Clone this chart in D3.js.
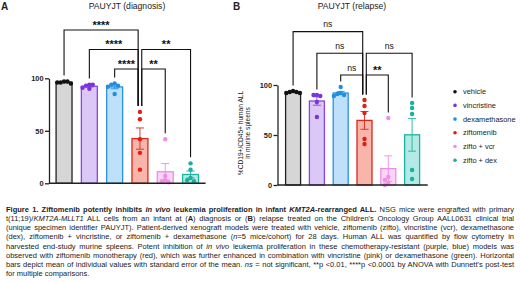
<!DOCTYPE html>
<html>
<head>
<meta charset="UTF-8">
<script src="https://cdnjs.cloudflare.com/ajax/libs/d3/7.8.5/d3.min.js"></script>
<style>
  body { margin: 0; background: #fff; font-family: Arial, "Liberation Sans", sans-serif; }
  #wrap { position: relative; width: 520px; height: 282px; overflow: hidden; }
  svg { position: absolute; left: 0; top: 0; }
  .caption {
    position: absolute; left: 6px; top: 205px; width: 508px;
    font-size: 7.5px; line-height: 9.15px; color: #222;
  }
  .caption div { text-align: justify; text-align-last: justify; white-space: nowrap; height: 9.15px; }
  .caption div.last { text-align-last: left; }
</style>
</head>
<body>
<div id="wrap">
  <svg id="chart" width="520" height="205"></svg>
  <div class="caption">
    <div><b>Figure 1. Ziftomenib potently inhibits <i>in vivo</i> leukemia proliferation in infant <i>KMT2A</i>-rearranged ALL.</b> NSG mice were engrafted with primary</div>
    <div>t(11;19)/<i>KMT2A-MLLT1</i> ALL cells from an infant at (<b>A</b>) diagnosis or (<b>B</b>) relapse treated on the Children's Oncology Group AALL0631 clinical trial</div>
    <div>(unique specimen identifier PAUYJT). Patient-derived xenograft models were treated with vehicle, ziftomenib (zifto), vincristine (vcr), dexamethasone</div>
    <div>(dex), ziftomenib + vincristine, or ziftomenib + dexamethasone (<i>n</i>=5 mice/cohort) for 28 days. Human ALL was quantified by flow cytometry in</div>
    <div>harvested end-study murine spleens. Potent inhibition of <i>in vivo</i> leukemia proliferation in these chemotherapy-resistant (purple, blue) models was</div>
    <div>observed with ziftomenib monotherapy (red), which was further enhanced in combination with vincristine (pink) or dexamethasone (green). Horizontal</div>
    <div>bars depict mean of individual values with standard error of the mean. <i>ns</i> = not significant, **p &lt;0.01, ****p &lt;0.0001 by ANOVA with Dunnett's post-test</div>
    <div class="last">for multiple comparisons.</div>
  </div>
</div>
<script>
// groups and values (% human ALL in spleen)
const groups = ["vehicle", "vincristine", "dexamethasone", "ziftomenib", "zifto + vcr", "zifto + dex"];
const yTicks = [0, 50, 100];

const diagnosisValues = [
  [97, 96, 97, 96, 95],
  [94, 93, 94, 91, 90],
  [95, 94, 93, 92, 85],
  [68, 61, 42, 29, 13],
  [42, 7, 3, 2, 1],
  [19, 13, 5, 3, 2]
];
const relapseValues = [
  [94, 93, 93, 92, 92],
  [90, 90, 89, 83, 68],
  [98, 92, 91, 90, 89],
  [85, 79, 72, 46, 41],
  [67, 8, 5, 2, 0],
  [82, 77, 71, 15, 6]
];

// comparisons: [from group, to group, level, label]
const diagnosisTests = [
  [0, 3, 2, "****"],
  [1, 3, 1, "****"],
  [2, 3, 0, "****"],
  [3, 5, 1, "**"],
  [3, 4, 0, "**"]
];
const relapseTests = [
  [0, 3, 2, "ns"],
  [1, 3, 1, "ns"],
  [2, 3, 0, "ns"],
  [3, 5, 1, "ns"],
  [3, 4, 0, "**"]
];

const fills   = ["#d6d6d6", "#dcc8f6", "#bfe0fa", "#f9b5a9", "#f9d5f5", "#b5e9e3"];
const strokes = ["#222222", "#8b45e0", "#2b91e2", "#d8281d", "#ea8fe4", "#1cb3a2"];
const dots    = ["#111111", "#7b34dc", "#1f8fe3", "#e31d12", "#f08de8", "#16b1a1"];

const svg = d3.select("#chart");
const font = "Arial, 'Liberation Sans', sans-serif";

function mean(a) { return d3.mean(a); }
function sem(a) { return d3.deviation(a) / Math.sqrt(a.length); }

function panel(cfg) {
  const {values, tests, x0, x1, yTop, yBottom, pad, levelY, levelStep, legGap} = cfg;
  const x = d3.scaleBand().domain(groups).range([x0, x1])
    .paddingInner(pad[0]).paddingOuter(pad[1]);
  const y = d3.scaleLinear().domain([0, 100]).range([yBottom, yTop]);
  const g = svg.append("g");

  // bars
  g.selectAll("rect.bar").data(values).enter().append("rect")
    .attr("x", (d, i) => x(groups[i]))
    .attr("y", d => y(mean(d)))
    .attr("width", x.bandwidth())
    .attr("height", d => y(0) - y(mean(d)))
    .attr("fill", (d, i) => fills[i])
    .attr("stroke", (d, i) => strokes[i])
    .attr("stroke-width", 1.3);

  // error bars
  values.forEach((d, i) => {
    const cx = x(groups[i]) + x.bandwidth() / 2;
    const m = mean(d), s = sem(d);
    const eg = g.append("g").attr("stroke", strokes[i]).attr("stroke-width", 0.9);
    eg.append("line").attr("x1", cx).attr("x2", cx).attr("y1", y(m - s)).attr("y2", y(m + s));
    [m - s, m + s].forEach(v => {
      eg.append("line").attr("x1", cx - 4).attr("x2", cx + 4).attr("y1", y(v)).attr("y2", y(v));
    });
  });

  // points with a small swarm spread
  const r = 2.2, step = 3.4;
  values.forEach((d, i) => {
    const cx = x(groups[i]) + x.bandwidth() / 2;
    const placed = [];
    d.forEach(v => {
      const py = y(v);
      let off = 0;
      for (let k = 0; k < 12; k++) {
        const cand = k === 0 ? 0 : (k % 2 ? -1 : 1) * Math.ceil(k / 2) * step;
        if (placed.every(p => Math.hypot(p[0] - cand, p[1] - py) >= step - 0.01)) { off = cand; break; }
      }
      placed.push([off, py]);
      g.append("circle").attr("cx", cx + off).attr("cy", py).attr("r", r).attr("fill", dots[i]);
    });
  });

  // axes
  const ax = g.append("g").attr("transform", `translate(${x0},0)`)
    .call(d3.axisLeft(y).tickValues(yTicks).tickSize(4).tickPadding(1.5).tickSizeOuter(0));
  ax.select(".domain").attr("stroke", "#222").attr("stroke-width", 1.3);
  ax.selectAll(".tick line").attr("stroke", "#222").attr("stroke-width", 1.3);
  ax.selectAll(".tick text").attr("font-family", font).attr("font-size", 7.4)
    .attr("font-weight", "bold").attr("fill", "#222");
  g.append("line").attr("x1", x0).attr("x2", x1).attr("y1", y(0)).attr("y2", y(0))
    .attr("stroke", "#222").attr("stroke-width", 1.4);

  // significance brackets
  const bg = g.append("g").attr("fill", "none").attr("stroke", "#111").attr("stroke-width", 1.1);
  tests.forEach(([a, b, lvl, lab]) => {
    const by = levelY - lvl * levelStep;
    const side = (gi, other) => {
      const c = x(groups[gi]) + x.bandwidth() / 2;
      if (gi === 3) return other < 3 ? c - 1.8 : c + 1.8;
      return c;
    };
    const xa = side(a, b), xb = side(b, a);
    const ya = y(d3.max(values[a])) - legGap, yb = y(d3.max(values[b])) - legGap;
    bg.append("path").attr("d", `M${xa},${ya}V${by}H${xb}V${yb}`);
    const isNs = lab === "ns";
    g.append("text").attr("x", (xa + xb) / 2).attr("y", isNs ? by - 4.5 : by - 1.5)
      .attr("text-anchor", "middle").attr("font-family", font)
      .attr("font-size", isNs ? 8.6 : 11).attr("font-weight", isNs ? "normal" : "bold")
      .attr("fill", "#111").text(lab);
  });

  return {x, y};
}

panel({values: diagnosisValues, tests: diagnosisTests, x0: 49, x1: 205.6,
  yTop: 78.3, yBottom: 183.3, pad: [0.37, 0.28], levelY: 69, levelStep: 19.5, legGap: 6});
panel({values: relapseValues, tests: relapseTests, x0: 277.5, x1: 427.7,
  yTop: 85, yBottom: 185, pad: [0.37, 0.34], levelY: 75, levelStep: 21.7, legGap: 5.5});

// panel titles and letters
const titles = [["PAUYJT (diagnosis)", 127], ["PAUYJT (relapse)", 352]];
titles.forEach(([t, cx]) => svg.append("text").attr("x", cx).attr("y", 9)
  .attr("text-anchor", "middle").attr("font-family", font).attr("font-size", 8.6)
  .attr("fill", "#222").text(t));
[["A", 1], ["B", 233]].forEach(([t, lx]) => svg.append("text").attr("x", lx).attr("y", 10)
  .attr("font-family", font).attr("font-size", 10).attr("font-weight", "bold")
  .attr("fill", "#222").text(t));

// y label of panel B
const yl = svg.append("text").attr("transform", "translate(243,133) rotate(-90)")
  .attr("text-anchor", "middle").attr("font-family", font).attr("font-size", 6.6).attr("fill", "#222");
yl.append("tspan").attr("x", 0).attr("dy", 0).text("%CD19+/CD45+ human ALL");
yl.append("tspan").attr("x", 0).attr("dy", 6.8).text("in murine spleens");

// legend
const lg = svg.append("g").attr("transform", "translate(455,91.7)");
groups.forEach((gname, i) => {
  const row = lg.append("g").attr("transform", `translate(0,${i * 13.7})`);
  row.append("circle").attr("r", 1.8).attr("fill", dots[i]);
  row.append("text").attr("x", 8).attr("y", 2.6).attr("font-family", font)
    .attr("font-size", 7.4).attr("fill", "#222").text(gname);
});
</script>
</body>
</html>
